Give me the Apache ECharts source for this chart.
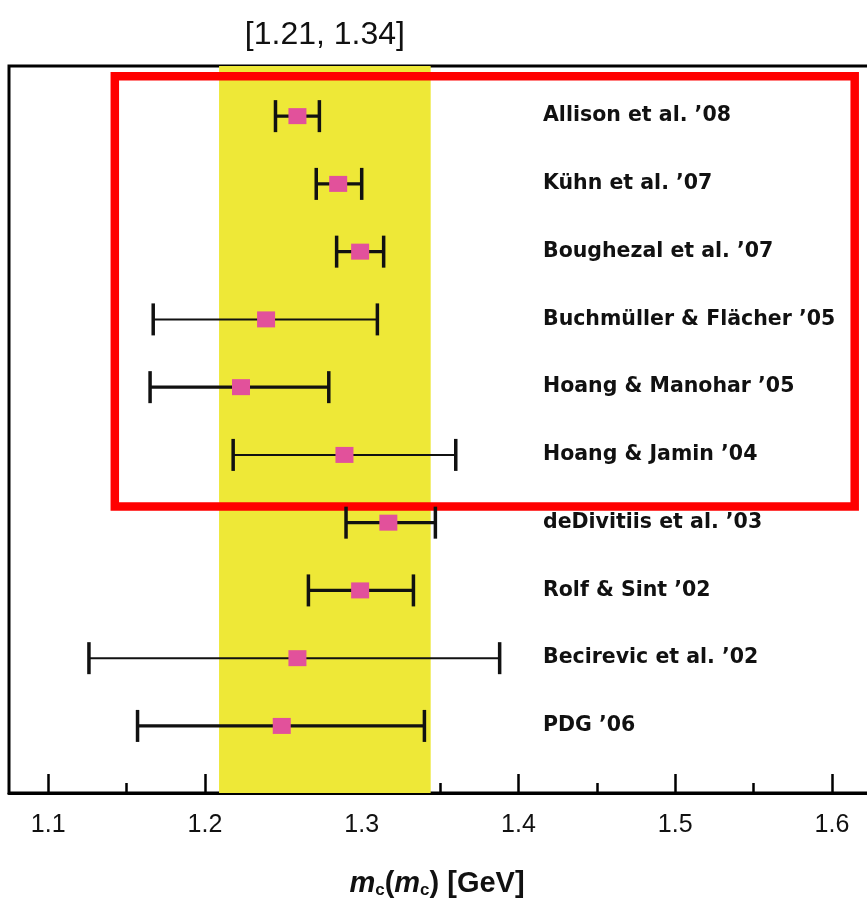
<!DOCTYPE html>
<html>
<head>
    <meta charset="utf-8">
    <title>m_c(m_c) determinations</title>
    <script src="https://cdn.jsdelivr.net/npm/echarts@6/dist/echarts.min.js"></script>
    <style>
        html, body { margin: 0; padding: 0; background: #fff; }
        #chart { width: 867px; height: 905px; }
    </style>
</head>
<body>
<div id="chart"></div>
<script type="text/javascript">
    // 各组结果 (自上而下)
    var names = [
        "Allison et al. \u201908",
        "K\u00fchn et al. \u201907",
        "Boughezal et al. \u201907",
        "Buchm\u00fcller & Fl\u00e4cher \u201905",
        "Hoang & Manohar \u201905",
        "Hoang & Jamin \u201904",
        "deDivitiis et al. \u201903",
        "Rolf & Sint \u201902",
        "Becirevic et al. \u201902",
        "PDG \u201906"
    ];
    var central = [1.259, 1.285, 1.299, 1.239, 1.223, 1.289, 1.317, 1.299, 1.259, 1.249];
    var lower   = [1.245, 1.271, 1.284, 1.167, 1.165, 1.218, 1.290, 1.266, 1.126, 1.157];
    var upper   = [1.273, 1.300, 1.314, 1.310, 1.279, 1.360, 1.347, 1.333, 1.388, 1.340];
    var thinRows = [3, 5, 8];

    // 平均区间 (黄色带)
    var band = [1.209, 1.344];
    // 红色框 (数据坐标)
    var boxX = [1.1425, 1.6145];
    var boxY = [-0.59, 5.76];

    var majorTicks = [1.1, 1.2, 1.3, 1.4, 1.5, 1.6];
    var minorTicks = [1.15, 1.25, 1.35, 1.45, 1.55];
    var rowIndex = names.map(function (n, i) { return i; });

    var barData = names.map(function (n, i) {
        return [lower[i], upper[i], central[i], i];
    });

    var narrowFont = '"Liberation Sans Narrow", "Liberation Sans", sans-serif';

    var myChart = echarts.init(document.getElementById('chart'));

    function renderBar(params, api) {
        var lo = api.coord([api.value(0), api.value(3)]);
        var hi = api.coord([api.value(1), api.value(3)]);
        var c = api.coord([api.value(2), api.value(3)]);
        var thin = thinRows.indexOf(params.dataIndex) >= 0;
        var lw = thin ? 2 : 3.2;
        var capH = 16;
        return {
            type: 'group',
            children: [
                { type: 'line', shape: { x1: lo[0], y1: lo[1], x2: hi[0], y2: hi[1] },
                  style: { stroke: '#111', lineWidth: lw } },
                { type: 'line', shape: { x1: lo[0], y1: lo[1] - capH, x2: lo[0], y2: lo[1] + capH },
                  style: { stroke: '#111', lineWidth: 3.5 } },
                { type: 'line', shape: { x1: hi[0], y1: hi[1] - capH, x2: hi[0], y2: hi[1] + capH },
                  style: { stroke: '#111', lineWidth: 3.5 } },
                { type: 'rect', shape: { x: c[0] - 9, y: c[1] - 8, width: 18, height: 16 },
                  style: { fill: '#e2519b' } }
            ]
        };
    }

    var option = {
        backgroundColor: '#fff',
        animation: false,
        grid: {
            left: 9, top: 66, width: 870, height: 727,
            containLabel: false, outerBoundsMode: 'none',
            show: true, borderColor: '#000', borderWidth: 3, backgroundColor: 'transparent'
        },
        xAxis: [{
            type: 'value',
            min: 1.075, max: 1.63,
            splitLine: { show: false },
            axisLine: { show: true, onZero: false, lineStyle: { color: '#000', width: 3 } },
            axisTick: { show: true, inside: true, length: 19, customValues: majorTicks,
                        lineStyle: { color: '#000', width: 2.5 } },
            axisLabel: { customValues: majorTicks, margin: 20, color: '#111',
                         fontFamily: narrowFont, fontSize: 25,
                         formatter: function (v) { return v.toFixed(1); } },
            name: '{i|m}{s|c}({i|m}{s|c}) [GeV]',
            nameLocation: 'middle',
            nameGap: 75,
            nameTextStyle: {
                color: '#111', fontSize: 29, fontWeight: 'bold', padding: [0, 14, 0, 0],
                fontFamily: narrowFont,
                rich: {
                    i: { fontStyle: 'italic', fontWeight: 'bold', fontSize: 29, color: '#111', fontFamily: narrowFont },
                    s: { fontSize: 17, fontWeight: 'bold', color: '#111', padding: [14, 0, 0, 0], fontFamily: narrowFont }
                }
            }
        }, {
            type: 'value',
            position: 'bottom',
            min: 1.075, max: 1.63,
            splitLine: { show: false },
            axisLine: { show: false, onZero: false },
            axisTick: { show: true, inside: true, length: 10, customValues: minorTicks,
                        lineStyle: { color: '#000', width: 2.5 } },
            axisLabel: { show: false }
        }],
        yAxis: {
            type: 'value',
            inverse: true,
            min: -0.74, max: 9.99,
            splitLine: { show: false },
            axisLine: { show: false },
            axisTick: { show: false },
            axisLabel: {
                inside: true, margin: 534, customValues: rowIndex,
                color: '#111', fontWeight: 'bold', fontSize: 20.5,
                fontFamily: '"DejaVu Sans", sans-serif',
                formatter: function (v) { return names[Math.round(v)] || ''; }
            }
        },
        series: [{
            type: 'scatter',
            data: [],
            z: 1,
            silent: true,
            markArea: {
                silent: true,
                itemStyle: { color: '#eee837' },
                label: {
                    show: true, position: 'top', distance: 15,
                    color: '#111', fontSize: 32, fontFamily: narrowFont,
                    formatter: function () {
                        return '[' + band[0].toFixed(2) + ', ' + band[1].toFixed(2) + ']';
                    }
                },
                data: [[{ xAxis: band[0], yAxis: -0.74 }, { xAxis: band[1], yAxis: 9.99 }]]
            }
        }, {
            type: 'custom',
            z: 3,
            renderItem: renderBar,
            encode: { x: [0, 1, 2], y: 3 },
            data: barData
        }, {
            type: 'scatter',
            data: [],
            z: 5,
            silent: true,
            markArea: {
                silent: true,
                itemStyle: { color: 'rgba(0,0,0,0)', borderColor: '#ff0000', borderWidth: 8.5 },
                label: { show: false },
                data: [[{ xAxis: boxX[0], yAxis: boxY[0] }, { xAxis: boxX[1], yAxis: boxY[1] }]]
            }
        }]
    };

    myChart.setOption(option);
</script>
</body>
</html>
